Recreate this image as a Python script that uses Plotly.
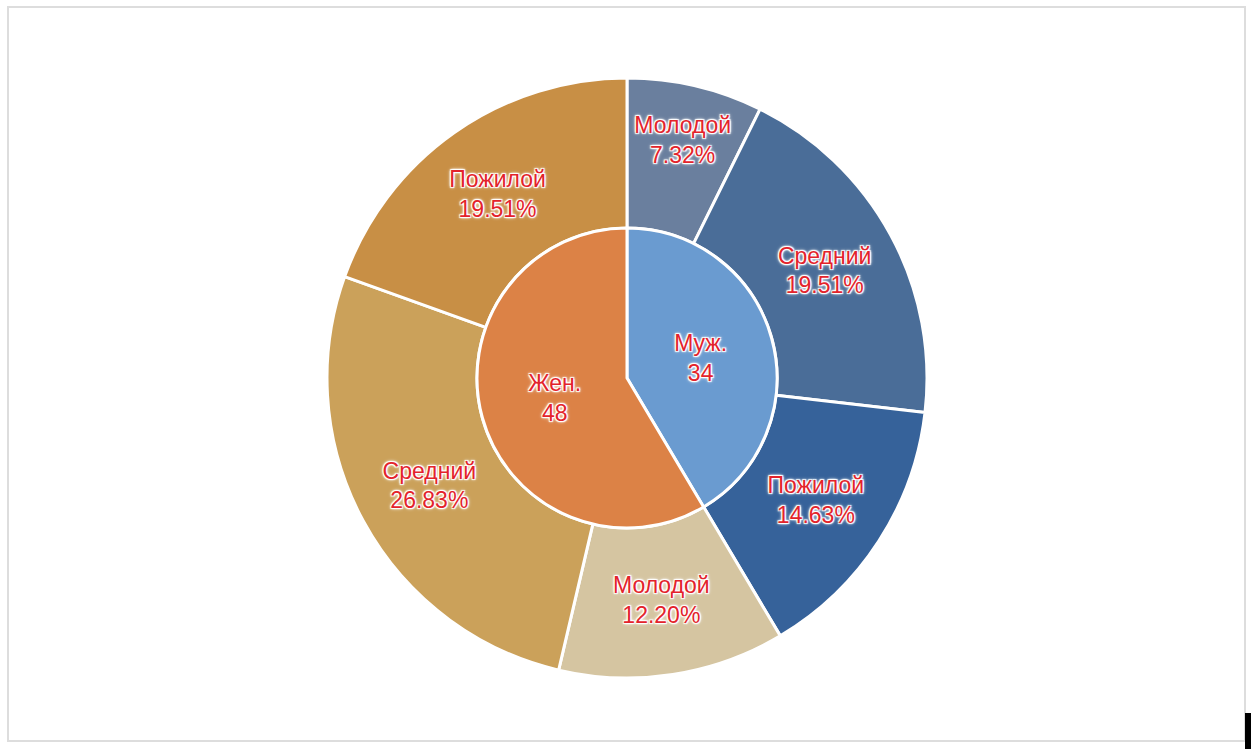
import plotly.graph_objects as go

# Gender totals (inner ring) and age groups per gender (outer ring)
genders = ["Муж.", "Жен."]
gender_counts = [34, 48]
age_groups = ["Молодой", "Средний", "Пожилой"]
male_counts = [6, 16, 12]
female_counts = [10, 22, 16]

gender_colors = ["#6a9bd0", "#dc8246"]
male_age_colors = ["#6a7f9e", "#4a6d98", "#36629a"]
female_age_colors = ["#d5c5a1", "#cba15a", "#c88f45"]

outer_labels = age_groups + age_groups
outer_values = male_counts + female_counts
outer_colors = male_age_colors + female_age_colors

W, H = 1253, 749
cx, cy = 627, 378          # chart centre, pixels from top-left
r_outer, r_inner = 300, 150


def domain(r):
    return dict(
        x=[(cx - r) / W, (cx + r) / W],
        y=[(H - cy - r) / H, (H - cy + r) / H],
    )


label_font = dict(
    family="Liberation Sans, Arial, sans-serif",
    size=23,
    color="#e3232b",
    shadow=("1px 1px 1px white, -1px -1px 1px white, 1px -1px 1px white, "
            "-1px 1px 1px white, 0px 0px 3px white, 0px 0px 4px white"),
)

fig = go.Figure()

fig.add_trace(
    go.Pie(
        labels=[f"{g}-{a}" for g in genders for a in age_groups],
        values=outer_values,
        text=outer_labels,
        hole=0.5,
        sort=False,
        direction="clockwise",
        rotation=0,
        textposition="inside",
        insidetextorientation="horizontal",
        texttemplate="%{text}<br>%{percent:.2%}",
        hovertemplate="%{text}: %{value}<extra></extra>",
        marker=dict(colors=outer_colors, line=dict(color="white", width=3)),
        textfont=label_font,
        domain=domain(r_outer),
        showlegend=False,
    )
)

fig.add_trace(
    go.Pie(
        labels=genders,
        values=gender_counts,
        sort=False,
        direction="clockwise",
        rotation=0,
        textposition="inside",
        insidetextorientation="horizontal",
        texttemplate="%{label}<br>%{value}",
        hovertemplate="%{label}: %{value}<extra></extra>",
        marker=dict(colors=gender_colors, line=dict(color="white", width=3)),
        textfont=label_font,
        domain=domain(r_inner),
        showlegend=False,
    )
)

fig.update_layout(
    width=W,
    height=H,
    margin=dict(l=0, r=0, t=0, b=0),
    paper_bgcolor="white",
    uniformtext=dict(minsize=23, mode="show"),
    showlegend=False,
    shapes=[
        dict(
            type="rect", xref="paper", yref="paper",
            x0=8 / W, x1=1245 / W, y0=8 / H, y1=742 / H,
            line=dict(color="#dddddd", width=2), fillcolor="rgba(0,0,0,0)",
        ),
        dict(
            type="rect", xref="paper", yref="paper",
            x0=1245 / W, x1=1251 / W, y0=0, y1=36 / H,
            line=dict(width=0), fillcolor="black",
        ),
    ],
)

fig.write_html("out.html")
